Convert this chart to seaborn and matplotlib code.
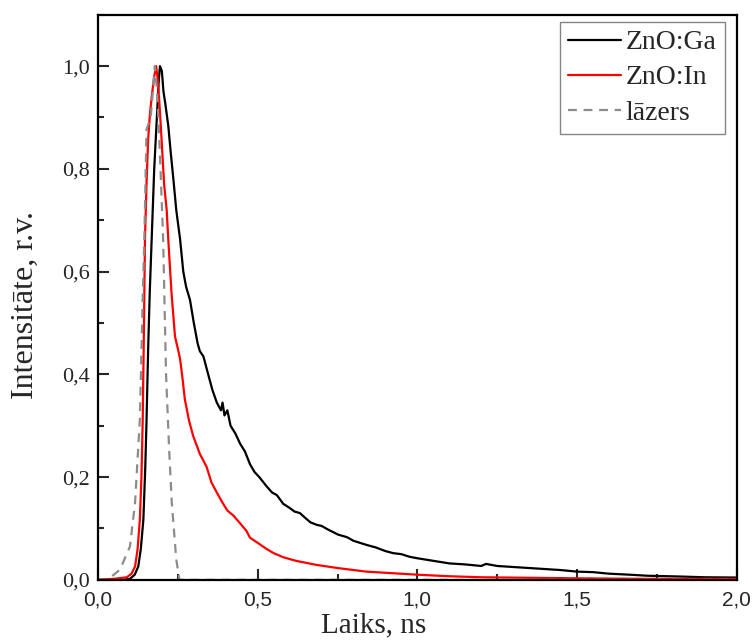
import numpy as np
import pandas as pd
import matplotlib
matplotlib.use("Agg")
import matplotlib.pyplot as plt
import seaborn as sns
from matplotlib.ticker import FuncFormatter, MultipleLocator

# -------------------------
# DATA
# -------------------------
laser_t = [0.0, 0.03, 0.069, 0.10, 0.116, 0.131, 0.140, 0.145, 0.152, 0.165,
           0.178, 0.185, 0.192, 0.204, 0.213, 0.223, 0.231, 0.245, 0.255, 2.0]
laser_i = [0.0, 0.0, 0.02, 0.065, 0.15, 0.312, 0.55, 0.663, 0.877, 0.90,
           1.0, 0.95, 0.858, 0.663, 0.40, 0.25, 0.15, 0.04, 0.0, 0.0]

in_t = [0.0, 0.05, 0.09, 0.105, 0.116, 0.124, 0.131, 0.136, 0.140, 0.144,
        0.147, 0.152, 0.157, 0.163, 0.170, 0.176, 0.182, 0.186, 0.192, 0.199,
        0.207, 0.215, 0.220, 0.230, 0.241, 0.250, 0.257, 0.265, 0.272, 0.285,
        0.298, 0.310, 0.319, 0.330, 0.340, 0.355, 0.372, 0.390, 0.405, 0.424,
        0.445, 0.465, 0.476, 0.50, 0.528, 0.55, 0.58, 0.62, 0.685, 0.75,
        0.84, 0.92, 1.0, 1.1, 1.2, 1.35, 1.5, 1.7, 2.0]
in_i = [0.0, 0.002, 0.005, 0.012, 0.026, 0.06, 0.117, 0.2, 0.312, 0.5,
        0.663, 0.773, 0.858, 0.91, 0.95, 0.98, 1.0, 0.98, 0.93, 0.858,
        0.77, 0.72, 0.663, 0.56, 0.474, 0.45, 0.43, 0.39, 0.351, 0.31,
        0.28, 0.26, 0.245, 0.232, 0.22, 0.19, 0.17, 0.15, 0.135, 0.125,
        0.11, 0.095, 0.082, 0.072, 0.06, 0.052, 0.044, 0.037, 0.029, 0.023,
        0.016, 0.013, 0.010, 0.007, 0.005, 0.004, 0.003, 0.002, 0.002]

ga_t = [0.0, 0.08, 0.10, 0.115, 0.126, 0.134, 0.142, 0.148, 0.152, 0.157,
        0.162, 0.168, 0.176, 0.184, 0.190, 0.194, 0.200, 0.205, 0.210, 0.220,
        0.228, 0.236, 0.245, 0.257, 0.267, 0.276, 0.288, 0.300, 0.312, 0.319,
        0.330, 0.345, 0.358, 0.372, 0.385, 0.390, 0.396, 0.405, 0.415, 0.430,
        0.445, 0.460, 0.476, 0.490, 0.505, 0.528, 0.545, 0.560, 0.580, 0.600,
        0.615, 0.632, 0.650, 0.665, 0.685, 0.700, 0.720, 0.752, 0.780, 0.800,
        0.841, 0.870, 0.900, 0.924, 0.950, 0.975, 1.0, 1.05, 1.1, 1.15,
        1.2, 1.215, 1.25, 1.30, 1.35, 1.40, 1.45, 1.50, 1.55, 1.60,
        1.665, 1.72, 1.82, 1.90, 2.0]
ga_i = [0.0, 0.0, 0.002, 0.01, 0.026, 0.06, 0.117, 0.22, 0.312, 0.45,
        0.56, 0.663, 0.80, 0.897, 0.97, 1.0, 0.99, 0.95, 0.93, 0.884,
        0.83, 0.78, 0.72, 0.663, 0.60, 0.57, 0.545, 0.50, 0.46, 0.445,
        0.435, 0.40, 0.37, 0.345, 0.33, 0.345, 0.32, 0.33, 0.30, 0.285,
        0.265, 0.25, 0.225, 0.21, 0.20, 0.182, 0.17, 0.165, 0.148, 0.14,
        0.133, 0.13, 0.12, 0.112, 0.107, 0.105, 0.098, 0.088, 0.083, 0.076,
        0.068, 0.063, 0.056, 0.052, 0.050, 0.045, 0.042, 0.037, 0.032, 0.030,
        0.027, 0.031, 0.027, 0.025, 0.023, 0.021, 0.019, 0.016, 0.015, 0.012,
        0.010, 0.008, 0.0065, 0.005, 0.0045]

df_ga = pd.DataFrame({"t": ga_t, "i": ga_i})
df_in = pd.DataFrame({"t": in_t, "i": in_i})
df_laser = pd.DataFrame({"t": laser_t, "i": laser_i})

# -------------------------
# STYLE
# -------------------------
sns.set_style("ticks")
plt.rcParams["font.family"] = ["Liberation Serif", "DejaVu Serif"]

fig = plt.figure(figsize=(7.54, 6.4), dpi=100)
ax = fig.add_axes([0.13, 0.094, 0.847, 0.883])

sns.lineplot(data=df_ga, x="t", y="i", ax=ax, color="black", lw=1.6,
             label="ZnO:Ga", sort=False)
sns.lineplot(data=df_in, x="t", y="i", ax=ax, color="#ff0000", lw=1.6,
             label="ZnO:In", sort=False)
sns.lineplot(data=df_laser, x="t", y="i", ax=ax, color="#8c8c8c", lw=1.6,
             linestyle=(0, (4, 3)), label="lāzers", sort=False)

ax.set_xlim(0, 2.0)
ax.set_ylim(0, 1.1)
ax.xaxis.set_major_locator(MultipleLocator(0.5))
ax.xaxis.set_minor_locator(MultipleLocator(0.25))
ax.yaxis.set_major_locator(MultipleLocator(0.2))
ax.yaxis.set_minor_locator(MultipleLocator(0.1))

comma = FuncFormatter(lambda v, p: f"{v:.1f}".replace(".", ","))
ax.xaxis.set_major_formatter(comma)
ax.yaxis.set_major_formatter(comma)

ax.tick_params(which="both", direction="in", width=1.5)
ax.tick_params(which="major", length=8)
ax.tick_params(which="minor", length=4)
ax.tick_params(axis="y", labelsize=16, pad=6)
ax.tick_params(axis="x", labelsize=15, pad=8)
# x tick labels are sans-serif in the reference
for lab in ax.get_xticklabels():
    lab.set_family(["Liberation Sans", "DejaVu Sans"])
for s in ax.spines.values():
    s.set_linewidth(1.6)
    s.set_color("black")

ax.set_xlabel("Laiks, ns", fontsize=21)
ax.set_ylabel("Intensitāte, r.v.", fontsize=23)
# keep the x label inside the figure, just under the tick labels
ax.xaxis.set_label_coords(0.495, 0.003, transform=fig.transFigure)
ax.xaxis.label.set_va("bottom")
ax.yaxis.set_label_coords(-0.114, 0.486, transform=ax.transAxes)
ax.yaxis.label.set_va("center")

leg = ax.legend(loc="upper right", bbox_to_anchor=(0.981, 0.988), fontsize=20,
                frameon=True, fancybox=False, handlelength=1.9,
                borderaxespad=0.0, labelspacing=0.35, handletextpad=0.15,
                borderpad=0.3)
leg.get_frame().set_edgecolor("#666666")
leg.get_frame().set_linewidth(1.0)

plt.savefig("out.png", dpi=100)
plt.close()
